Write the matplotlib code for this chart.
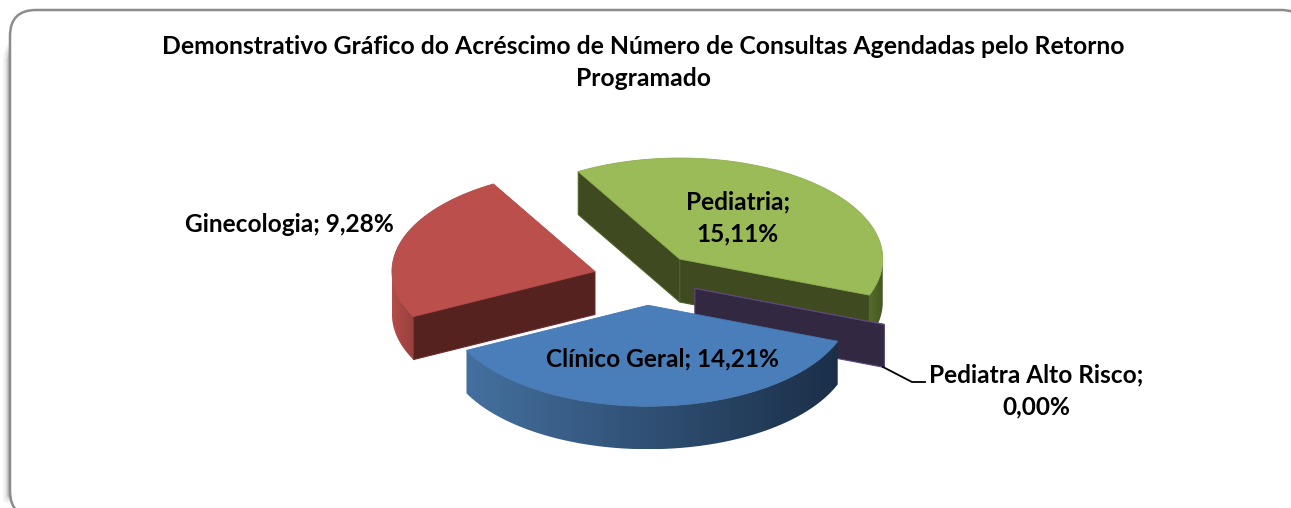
import numpy as np
import matplotlib as mpl
mpl.use('Agg')
import matplotlib.pyplot as plt
from matplotlib.patches import FancyBboxPatch, Polygon
from matplotlib.colors import LinearSegmentedColormap

plt.rcParams['font.family'] = ['Lato', 'DejaVu Sans']

# chart values
categories = ['Pediatria', 'Pediatra Alto Risco', 'Clínico Geral', 'Ginecologia']
values = [15.11, 0.00, 14.21, 9.28]
title = 'Demonstrativo Gráfico do Acréscimo de Número de Consultas Agendadas pelo Retorno\nProgramado'

top_colors = ['#9bbb59', '#5f497a', '#4a7ebb', '#bb4f4c']
top_edges = ['#8faf50', '#5f497a', '#4676ae', '#b04a47']
side_colors = ['#3f4a21', '#332842', '#2a4a70', '#552220']
edge_colors = ['#4f6228', '#5f497a', '#3c6596', '#6a2a28']
rim_left = ['#556b2b', '#5f497a', '#44709f', '#b54c49']
rim_right = ['#465723', '#5f497a', '#1b2f48', '#983f3d']

# pie geometry, in pixels of the picture
cx, cy = 645.5, 279
rx, ry = 203, 101
depth = 43
explode = 0.26
rotation = 330


def pt(theta, ox, oy, r=1.0, dz=0.0):
    t = np.radians(theta)
    return np.column_stack([ox + rx * r * np.sin(t), oy - ry * r * np.cos(t) + dz])


def i_z(i):
    return 2 + order.index(i)


def draw_rim(ax, start, end, ox, oy, i):
    a = max(start, 90)
    b = min(end, 270)
    if b <= a:
        return
    th = np.linspace(a, b, 100)
    poly = np.vstack([pt(th, ox, oy), pt(th[::-1], ox, oy, dz=depth)])
    patch = Polygon(poly, closed=True, facecolor='none', edgecolor='none')
    ax.add_patch(patch)
    cmap = LinearSegmentedColormap.from_list('rim', [rim_left[i], rim_right[i]])
    im = ax.imshow(np.linspace(0, 1, 256)[None, :], cmap=cmap, aspect='auto',
                   extent=[poly[:, 0].min(), poly[:, 0].max(), poly[:, 1].max(), poly[:, 1].min()],
                   zorder=i_z(i))
    im.set_clip_path(patch)


def draw_radial(ax, theta, ox, oy, i):
    outer = pt(np.array([theta]), ox, oy)[0]
    poly = [(ox, oy), outer, outer + [0, depth], (ox, oy + depth)]
    ax.add_patch(Polygon(poly, closed=True, facecolor=side_colors[i], edgecolor=edge_colors[i],
                         linewidth=0.8, zorder=i_z(i)))


def main():
    fig = plt.figure(figsize=(12.91, 5.08), dpi=100)
    ax = fig.add_axes([0, 0, 1, 1])
    ax.set_xlim(0, 1291)
    ax.set_ylim(508, 0)
    ax.axis('off')

    # chart frame, runs off the right and bottom of the picture
    for off, col, lw in [(-5, '#f0f0f0', 2.5), (-3, '#dcdcdc', 2), (-1.5, '#b8b8b8', 1.5)]:
        ax.add_patch(FancyBboxPatch((10 + off, 36), 1300, 484 - off, boxstyle='round,pad=0,rounding_size=26',
                                    facecolor='none', edgecolor=col, linewidth=lw, zorder=0))
    ax.add_patch(FancyBboxPatch((10, 10), 1297, 507, boxstyle='round,pad=0,rounding_size=26',
                                facecolor='white', edgecolor='#8c8c8c', linewidth=1.8, zorder=1))

    total = sum(values)
    spans = [v / total * 360 for v in values]
    starts = rotation + np.concatenate([[0], np.cumsum(spans)[:-1]])

    global order
    mids = [s + sp / 2 for s, sp in zip(starts, spans)]
    order = sorted(range(len(values)), key=lambda k: -np.cos(np.radians(mids[k])))

    for i in order:
        start = starts[i] % 360
        if start > 300:
            start -= 360
        end = start + spans[i]
        mid = np.radians(start + spans[i] / 2)
        ox = cx + explode * rx * np.sin(mid)
        oy = cy - explode * ry * np.cos(mid)

        # only the faces turned to the viewer
        if np.cos(np.radians(start - 90)) < 0:
            draw_radial(ax, start, ox, oy, i)
        if np.cos(np.radians(end + 90)) < 0:
            draw_radial(ax, end, ox, oy, i)
        draw_rim(ax, start, end, ox, oy, i)

        th = np.linspace(start, end, 200)
        top = np.vstack([[ox, oy], pt(th, ox, oy)])
        ax.add_patch(Polygon(top, closed=True, facecolor=top_colors[i], edgecolor=top_edges[i],
                             linewidth=0.6, zorder=i_z(i) + 0.5))

    ax.set_xlim(0, 1291)
    ax.set_ylim(508, 0)

    ax.text(643, 62.5, title, ha='center', va='center', fontsize=17.8, fontweight='bold',
            color='black', linespacing=1.5, zorder=10)
    label_kw = dict(ha='center', va='center', fontsize=17.6, fontweight='bold', color='black',
                    linespacing=1.5, zorder=10)
    ax.text(738, 218, f'{categories[0]};\n{values[0]:.2f}%'.replace('.', ','), **label_kw)
    ax.text(1036, 391, f'{categories[1]};\n{values[1]:.2f}%'.replace('.', ','), **label_kw)
    ax.text(662, 359, f'{categories[2]}; {values[2]:.2f}%'.replace('.', ','), **label_kw)
    ax.text(289, 224, f'{categories[3]}; {values[3]:.2f}%'.replace('.', ','), **label_kw)

    # leader line of the zero slice
    ax.plot([883, 912, 925], [367, 382, 382], color='black', linewidth=1.3, zorder=9)

    fig.savefig('out.png', dpi=100)
    plt.close()


if __name__ == '__main__':
    main()
